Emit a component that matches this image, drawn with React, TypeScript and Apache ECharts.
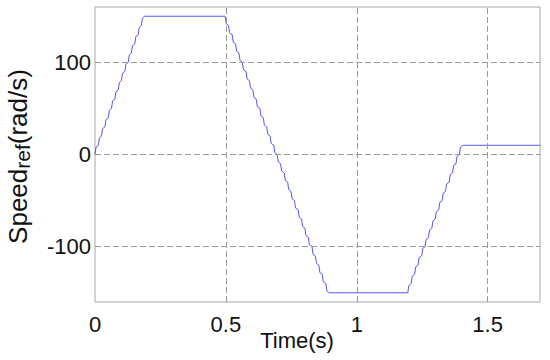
import React, { useEffect, useRef } from "react";
import * as echarts from "echarts";

// Speed reference profile (time in s, speed in rad/s)
const rampUp: [number, number][] = [
  [0, 0], [0.004, 8], [0.013, 10], [0.017, 18], [0.025, 20], [0.029, 28], [0.038, 30],
  [0.042, 38], [0.051, 40], [0.055, 48], [0.063, 50], [0.067, 58], [0.076, 60],
  [0.08, 68], [0.089, 70], [0.093, 78], [0.101, 80], [0.105, 88], [0.114, 90],
  [0.118, 98], [0.127, 100], [0.131, 108], [0.139, 110], [0.143, 118], [0.152, 120],
  [0.156, 128], [0.165, 130], [0.169, 138], [0.177, 140], [0.181, 148], [0.19, 150],
];
const rampDown: [number, number][] = [
  [0.497, 150], [0.501, 142], [0.51, 140], [0.514, 132], [0.524, 130], [0.528, 122],
  [0.537, 120], [0.541, 112], [0.55, 110], [0.554, 102], [0.563, 100], [0.567, 92],
  [0.577, 90], [0.581, 82], [0.59, 80], [0.594, 72], [0.603, 70], [0.607, 62],
  [0.616, 60], [0.62, 52], [0.63, 50], [0.634, 42], [0.643, 40], [0.647, 32],
  [0.656, 30], [0.66, 22], [0.669, 20], [0.673, 12], [0.683, 10], [0.687, 2],
  [0.696, 0], [0.7, -8], [0.709, -10], [0.713, -18], [0.723, -20], [0.727, -28],
  [0.736, -30], [0.74, -38], [0.749, -40], [0.753, -48], [0.762, -50], [0.766, -58],
  [0.776, -60], [0.78, -68], [0.789, -70], [0.793, -78], [0.802, -80], [0.806, -88],
  [0.815, -90], [0.819, -98], [0.829, -100], [0.833, -108], [0.842, -110], [0.846, -118],
  [0.855, -120], [0.859, -128], [0.868, -130], [0.872, -138], [0.882, -140], [0.886, -148],
  [0.895, -150],
];
const rampUp2: [number, number][] = [
  [1.195, -150], [1.199, -142], [1.208, -140], [1.212, -132], [1.221, -130], [1.225, -122],
  [1.234, -120], [1.238, -112], [1.248, -110], [1.252, -102], [1.261, -100], [1.265, -92],
  [1.274, -90], [1.278, -82], [1.287, -80], [1.291, -72], [1.3, -70], [1.304, -62],
  [1.313, -60], [1.317, -52], [1.326, -50], [1.33, -42], [1.339, -40], [1.343, -32],
  [1.353, -30], [1.357, -22], [1.366, -20], [1.37, -12], [1.379, -10], [1.383, -2],
  [1.392, 0], [1.396, 8], [1.405, 10],
];
const finalHold: [number, number][] = [[1.7, 10]];

const xTicks = [0, 0.5, 1, 1.5];
const yTicks = [-100, 0, 100];
const xRange = [0, 1.7];
const yRange = [-160, 160];

const speedData = [...rampUp, ...rampDown, ...rampUp2, ...finalHold];

const FONT = "'Liberation Sans', Arial, Helvetica, sans-serif";

export default function App() {
  const ref = useRef<HTMLDivElement>(null);
  useEffect(() => {
    if (!ref.current) return;
    const chart = echarts.init(ref.current, undefined, { renderer: "svg" });
    const gridLineStyle = { color: "#9a9a9a", width: 1, type: [6, 3] as any };
    chart.setOption({
      animation: false,
      backgroundColor: "#ffffff",
      grid: {
        left: 95,
        right: 10,
        top: 7,
        bottom: 58,
        outerBoundsMode: "none",
        containLabel: false,
        show: true,
        borderColor: "#a8a8a8",
        borderWidth: 1,
        backgroundColor: "#ffffff",
      },
      xAxis: {
        type: "value",
        min: xRange[0],
        max: xRange[1],
        interval: 0.5,
        axisLine: { show: false },
        axisTick: { show: false },
        splitLine: { show: false },
        axisLabel: {
          margin: 11,
          fontSize: 22,
          fontFamily: FONT,
          color: "#111",
          formatter: (v: number) =>
            xTicks.some((t) => Math.abs(t - v) < 1e-6) ? String(v) : "",
        },
        name: "Time(s)",
        nameLocation: "middle",
        nameGap: 27,
        nameMoveOverlap: false,
        nameTextStyle: {
          fontSize: 22,
          fontFamily: FONT,
          color: "#111",
          padding: [0, 41, 0, 0],
        },
      },
      yAxis: {
        type: "value",
        min: yRange[0],
        max: yRange[1],
        interval: 20,
        axisLine: { show: false },
        axisTick: { show: false },
        splitLine: { show: false },
        axisLabel: {
          margin: 4,
          fontSize: 22,
          fontFamily: FONT,
          color: "#111",
          formatter: (v: number) =>
            yTicks.some((t) => Math.abs(t - v) < 1e-6) ? String(Math.round(v)) : "",
        },
        name: "Speed{sub|ref}(rad/s)",
        nameLocation: "middle",
        nameGap: 62,
        nameMoveOverlap: false,
        nameTextStyle: {
          fontSize: 26,
          fontFamily: FONT,
          color: "#111",
          lineHeight: 30,
          padding: [0, 4, 0, 0],
          rich: {
            sub: {
              fontSize: 21,
              fontFamily: FONT,
              color: "#111",
              lineHeight: 30,
              verticalAlign: "bottom",
            },
          },
        },
      },
      series: [
        {
          type: "line",
          data: [],
          z: 1,
          silent: true,
          markLine: {
            silent: true,
            symbol: ["none", "none"],
            label: { show: false },
            lineStyle: gridLineStyle,
            data: [
              ...yTicks.map((y) => ({ yAxis: y })),
              ...xTicks.filter((x) => x > 0).map((x) => ({ xAxis: x })),
            ],
          },
        },
        {
          type: "line",
          data: speedData,
          z: 3,
          showSymbol: false,
          symbol: "none",
          lineStyle: { color: "#5656ee", width: 1 },
        },
      ],
    });
    return () => chart.dispose();
  }, []);
  return (
    <div
      ref={ref}
      style={{ position: "fixed", left: 0, top: 0, width: 550, height: 360 }}
    />
  );
}
